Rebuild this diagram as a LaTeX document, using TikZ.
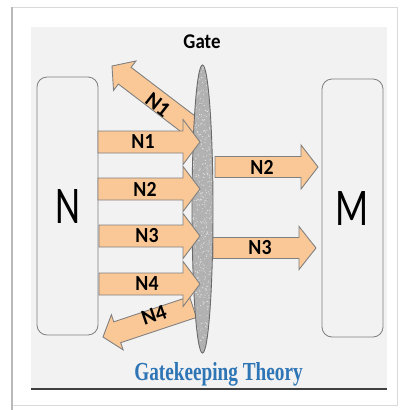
\documentclass[tikz,border=0pt]{standalone}
\usepackage{fontspec}
\setmainfont{Carlito}
\newfontfamily\titlefont{Liberation Serif}
\usetikzlibrary{calc,shapes.geometric}
\definecolor{panelgray}{HTML}{F2F2F2}
\definecolor{arrowfill}{HTML}{FAC896}
\definecolor{arrowline}{HTML}{808080}
\definecolor{boxline}{HTML}{7F7F7F}
\definecolor{titleblue}{HTML}{2E75B6}
\definecolor{gatefill}{HTML}{B2B2B2}
\definecolor{gateline}{HTML}{6A6A6A}
\tikzset{
  arrowbody/.style={fill=arrowfill, draw=arrowline, line width=0.9pt, line join=miter},
  roundbox/.style={draw=boxline, fill=panelgray, line width=0.8pt, rounded corners=10pt, minimum width=61pt, minimum height=258pt, inner sep=0pt, font=\fontsize{53}{53}\selectfont},
  lbl/.style={font=\fontsize{21.5}{21.5}\selectfont\bfseries, inner sep=0pt, text=black},
  gatelbl/.style={font=\fontsize{21}{21}\selectfont\bfseries, inner sep=0pt},
  titlelbl/.style={font=\titlefont\fontsize{26}{26}\selectfont\bfseries, text=titleblue, inner sep=0pt, anchor=base},
}
\newcommand{\fatarrow}[5]{%
  \coordinate (#1-h) at ($(#2)!#5!(#1)$);
  \filldraw[arrowbody] ($(#1)!#3!90:(#2)$) -- ($(#1-h)!#3!90:(#2)$) -- ($(#1-h)!#4!90:(#2)$) -- (#2)
    -- ($(#1-h)!#4!-90:(#2)$) -- ($(#1-h)!#3!-90:(#2)$) -- ($(#1)!#3!-90:(#2)$) -- cycle;}
\begin{document}
\begin{tikzpicture}[x=1pt,y=-1pt]
\useasboundingbox (0,0) rectangle (400,410);
\fill[white] (0,0) rectangle (400,410);
% outer card
\draw[gray!30, line width=1pt] (12,7) rectangle (397,405);
\draw[gray!55, line width=2pt] (12,7) -- (12,410);
% panel
\fill[panelgray] (31,27) rectangle (387,389);
\draw[black!75, line width=1.5pt] (31,389) -- (387,389);
% boxes
\node[roundbox] (N) at (67.5,206) {\scalebox{0.73}[1]{N}};
\node[roundbox] (M) at (352.5,208) {\scalebox{0.73}[1]{M}};
% coordinates
\coordinate (l1s) at (98,142);  \coordinate (l1e) at (200,142);
\coordinate (l2s) at (98,189);  \coordinate (l2e) at (200,189);
\coordinate (l3s) at (99,236);  \coordinate (l3e) at (200,236);
\coordinate (l4s) at (99,284);  \coordinate (l4e) at (200,284);
\coordinate (r2s) at (215,167); \coordinate (r2e) at (318,167);
\coordinate (r3s) at (213,248); \coordinate (r3e) at (316,248);
\coordinate (d1s) at (200,133); \coordinate (d1e) at (112,66);
\coordinate (d4s) at (193,307); \coordinate (d4e) at (103,337);
% diagonal (rejected) arrows
\fatarrow{d1s}{d1e}{10.5pt}{18.5pt}{16pt}
\fatarrow{d4s}{d4e}{11pt}{18.5pt}{15pt}
% gate
\pgfmathsetseed{7}
\node[ellipse, draw=gateline, fill=gatefill, line width=0.9pt, minimum width=21pt, minimum height=288pt, inner sep=0pt,
  path picture={
    \foreach \i in {1,...,550}{\fill[white!80!gray] ($(path picture bounding box.center)+({11*rand},{145*rand})$) circle[radius=0.55pt];}
    \foreach \i in {1,...,300}{\fill[black!35] ($(path picture bounding box.center)+({11*rand},{145*rand})$) circle[radius=0.45pt];}
  }] (gate) at (202.5,209) {};
% incoming arrows
\fatarrow{l1s}{l1e}{11pt}{22.5pt}{17pt}
\fatarrow{l2s}{l2e}{11pt}{22.5pt}{17pt}
\fatarrow{l3s}{l3e}{11pt}{22.5pt}{17pt}
\fatarrow{l4s}{l4e}{11pt}{22.5pt}{17pt}
% outgoing arrows
\fatarrow{r2s}{r2e}{10.5pt}{22pt}{17pt}
\fatarrow{r3s}{r3e}{10.5pt}{21.5pt}{17pt}
% labels
\node[lbl, xscale=0.92] (t1) at (143,142) {N1};
\node[lbl, xscale=0.92] (t2) at (145,189) {N2};
\node[lbl, xscale=0.92] (t3) at (147,236) {N3};
\node[lbl, xscale=0.92] (t4) at (147,284) {N4};
\node[lbl, xscale=0.92] (t5) at (262,167) {N2};
\node[lbl, xscale=0.92] (t6) at (260,248) {N3};
\node[lbl, rotate=-38] (t7) at (158,105) {N1};
\node[lbl, rotate=19] (t8) at (154,315) {N4};
\node[gatelbl, xscale=0.9] (gatetext) at (202,42) {Gate};
\node[titlelbl, xscale=0.74] (title) at (218.5,380) {Gatekeeping Theory};
\end{tikzpicture}
\end{document}
